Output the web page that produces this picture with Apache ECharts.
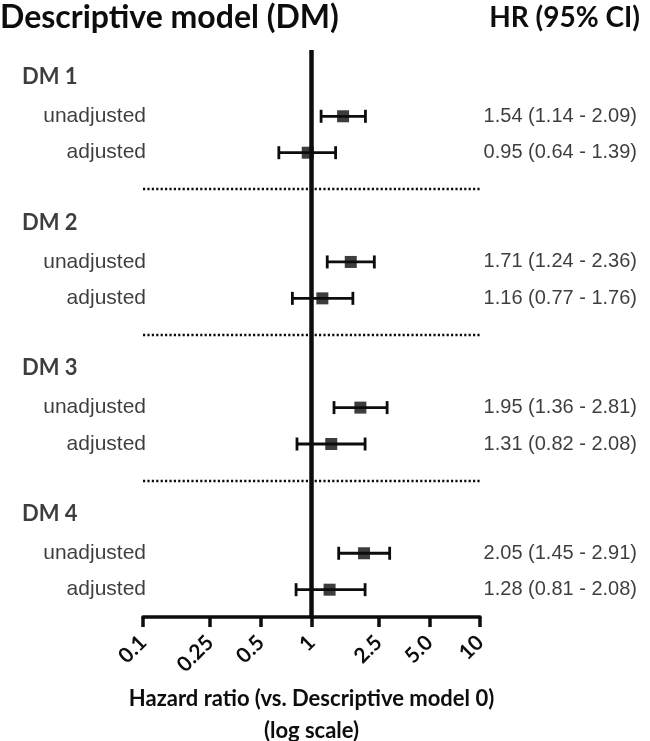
<!DOCTYPE html>
<html>
<head>
<meta charset="utf-8">
<script src="https://cdn.jsdelivr.net/npm/echarts@6/dist/echarts.min.js"></script>
<style>
  html, body { margin: 0; padding: 0; background: #fff; }
  #chart { width: 650px; height: 741px; }
</style>
</head>
<body>
<div id="chart"></div>
<script>
// rows from top: group header, unadjusted, adjusted, separator ...
const groups = ['DM 1', 'DM 2', 'DM 3', 'DM 4'];
const subLabels = ['unadjusted', 'adjusted'];
const hr = [1.54, 0.95, 1.71, 1.16, 1.95, 1.31, 2.05, 1.28];
const ciLow = [1.14, 0.64, 1.24, 0.77, 1.36, 0.82, 1.45, 0.81];
const ciHigh = [2.09, 1.39, 2.36, 1.76, 2.81, 2.08, 2.91, 2.08];
const tickValues = [0.1, 0.25, 0.5, 1, 2.5, 5, 10];
const tickLabels = ['0.1', '0.25', '0.5', '1', '2.5', '5.0', '10'];

const boldFont = 'Lato';
const textFont = 'Liberation Sans';
const ink = '#0d0d0d';

// row index of each estimate: group g, sub s -> g*4 + 1 + s
const estRows = hr.map((_, i) => Math.floor(i / 2) * 4 + 1 + (i % 2));
const groupRows = groups.map((_, g) => g * 4);
const sepRows = [3, 7, 11];

const fmt = v => v.toFixed(2);
const hrText = hr.map((v, i) => `${fmt(v)} (${fmt(ciLow[i])} - ${fmt(ciHigh[i])})`);

const chart = echarts.init(document.getElementById('chart'));

chart.setOption({
  animation: false,
  title: [
    {
      text: 'Descriptive model (DM)',
      left: -2,
      top: 0,
      padding: 2,
      textStyle: { fontFamily: boldFont, fontWeight: 'bold', fontSize: 32, color: ink }
    },
    {
      text: 'HR (95% CI)',
      right: 8,
      top: 2,
      padding: 2,
      textStyle: { fontFamily: boldFont, fontWeight: 'bold', fontSize: 28, color: ink }
    }
  ],
  grid: { left: 143, right: 170, top: 50, bottom: 124, containLabel: false, outerBoundsMode: 'none' },
  xAxis: {
    type: 'log',
    logBase: 10,
    min: 0.1,
    max: 10,
    splitLine: { show: false },
    axisLine: { onZero: false, lineStyle: { color: ink, width: 3.5 } },
    axisTick: {
      customValues: tickValues,
      length: 10,
      lineStyle: { color: ink, width: 3.5 }
    },
    axisLabel: {
      customValues: tickValues,
      rotate: 45,
      margin: 22,
      fontFamily: boldFont,
      fontWeight: 'bold',
      fontSize: 21,
      color: ink,
      formatter: v => {
        let best = 0;
        tickValues.forEach((t, i) => {
          if (Math.abs(Math.log10(t) - Math.log10(v)) < Math.abs(Math.log10(tickValues[best]) - Math.log10(v))) best = i;
        });
        return tickLabels[best];
      }
    },
    name: 'Hazard ratio (vs. Descriptive model 0)\n(log scale)',
    nameLocation: 'middle',
    nameGap: 53,
    nameTextStyle: {
      fontFamily: boldFont,
      fontWeight: 'bold',
      fontSize: 22,
      lineHeight: 32,
      color: ink
    }
  },
  yAxis: {
    type: 'value',
    inverse: true,
    min: -0.82,
    max: 14.75,
    show: false
  },
  series: [
    {
      name: 'refs',
      type: 'line',
      data: [],
      markLine: {
        silent: true,
        symbol: 'none',
        label: { show: false },
        data: [
          { xAxis: 1, lineStyle: { color: ink, width: 4.5, type: 'solid' } },
          ...sepRows.map(r => ({ yAxis: r, lineStyle: { color: ink, width: 2.4, type: [2.2, 2.2] } }))
        ]
      }
    },
    {
      name: 'ci',
      type: 'custom',
      data: ciLow.map((lo, i) => [lo, ciHigh[i], estRows[i]]),
      renderItem: (params, api) => {
        const a = api.coord([api.value(0), api.value(2)]);
        const b = api.coord([api.value(1), api.value(2)]);
        const h = 6.5;
        const style = { stroke: ink, lineWidth: 2.8 };
        return {
          type: 'group',
          children: [
            { type: 'line', shape: { x1: a[0], y1: a[1], x2: b[0], y2: b[1] }, style },
            { type: 'line', shape: { x1: a[0], y1: a[1] - h, x2: a[0], y2: a[1] + h }, style },
            { type: 'line', shape: { x1: b[0], y1: b[1] - h, x2: b[0], y2: b[1] + h }, style }
          ]
        };
      },
      z: 3
    },
    {
      name: 'HR',
      type: 'scatter',
      symbol: 'rect',
      symbolSize: 12,
      itemStyle: { color: ink },
      data: hr.map((v, i) => [v, estRows[i]]),
      z: 4
    },
    {
      name: 'groupLabels',
      type: 'scatter',
      symbolSize: 0,
      data: groups.map((g, i) => ({ value: [0.1, groupRows[i]], name: g })),
      label: {
        show: true,
        position: 'inside',
        align: 'left',
        offset: [-121, -3],
        formatter: p => p.name,
        fontFamily: boldFont,
        fontWeight: 'bold',
        fontSize: 22,
        color: ink
      }
    },
    {
      name: 'subLabels',
      type: 'scatter',
      symbolSize: 0,
      data: hr.map((_, i) => ({ value: [0.1, estRows[i]], name: subLabels[i % 2] })),
      label: {
        show: true,
        position: 'inside',
        align: 'right',
        offset: [3, 0],
        formatter: p => p.name,
        fontFamily: textFont,
        fontSize: 21,
        color: ink
      }
    },
    {
      name: 'hrText',
      type: 'scatter',
      symbolSize: 0,
      data: hr.map((_, i) => ({ value: [10, estRows[i]], name: hrText[i] })),
      label: {
        show: true,
        position: 'inside',
        align: 'right',
        offset: [157, 0],
        formatter: p => p.name,
        fontFamily: textFont,
        fontSize: 20,
        color: ink
      }
    }
  ]
});
</script>
</body>
</html>
